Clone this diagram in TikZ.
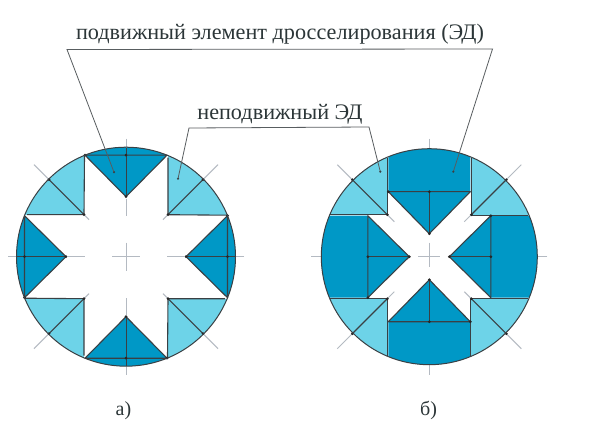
\documentclass[tikz,border=0pt]{standalone}
\usepackage{fontspec}
\setmainfont{Liberation Serif}
\definecolor{dk}{HTML}{0098C6}
\definecolor{lt}{HTML}{6DD3E8}
\definecolor{ink}{HTML}{3A4044}
\definecolor{cl}{HTML}{B4BAC2}
\definecolor{txt}{HTML}{2C3638}
\tikzset{
  outl/.style={draw=ink,line width=1.1pt,line join=round},
  thinl/.style={draw=ink,line width=0.7pt},
  centerl/.style={draw=cl,line width=1pt},
  leader/.style={draw=ink!85,line width=0.8pt},
  lab/.style={font=\fontsize{22.2}{25}\selectfont,text=txt,inner sep=0pt,anchor=base},
  sub/.style={font=\fontsize{20}{22}\selectfont,text=txt,inner sep=0pt,anchor=base},
}
\newcommand{\vd}[1]{\fill[black!85] (#1) circle (1.5);}
\begin{document}
\begin{tikzpicture}[x=1pt,y=-1pt]
\useasboundingbox (0,0) rectangle (591,438);
\fill[white] (0,0) rectangle (591,438);
% --- figure a
\begin{scope}[shift={(126,256.7)}]
  \begin{scope}
    \clip (0,0) circle (109.5);
    \foreach \r in {0,90,180,270}{
      \begin{scope}[rotate=\r]
        \fill[lt] (-42,-42) -- (-42,-120) -- (-120,-120) -- (-120,-42) -- cycle;
        \fill[dk] (0,-60) -- (-41,-101.5) -- (-41,-120) -- (41,-120) -- (41,-101.5) -- cycle;
      \end{scope}}
  \end{scope}
  \foreach \r in {0,90,180,270}{
    \begin{scope}[rotate=\r]
      \draw[centerl] (0,-118) -- (0,-109);
      \draw[centerl] (0,-58) -- (0,-41);
      \draw[centerl] (-92,-92) -- (-77,-77);
      \draw[centerl] (-42,-42) -- (-37,-37);
      \draw[outl] (-41,-101.5) -- (41,-101.5) -- (0,-60) -- cycle;
      \draw[thinl] (0,-109) -- (0,-60);
      \draw[outl] (-41.5,-101) -- (-42,-42) -- (-99,-42);
      \draw[outl] (-42,-42) -- (-77,-77);
      \vd{-41,-101.5}\vd{0,-60}\vd{0,-101.5}\vd{-42,-42}\vd{-77,-77}
    \end{scope}}
  \draw[centerl] (-14,0) -- (14,0) (0,-14) -- (0,14);
  \draw[draw=ink,line width=1pt] (0,0) circle (109.5);
  \coordinate (ma) at (-12,-84.5);
  \coordinate (fa) at (52,-78);
\end{scope}
% --- figure b
\begin{scope}[shift={(429.3,256.7)}]
  \begin{scope}
    \clip (0,0) circle (108);
    \foreach \r/\h/\t in {0/65/23,90/61.5/20,180/65/23,270/61.5/20}{
      \begin{scope}[rotate=\r]
        \fill[lt] (-42,-42) -- (-42,-120) -- (-120,-120) -- (-120,-42) -- cycle;
        \fill[dk] (0,-\t) -- (-41,-\h) -- (-41,-120) -- (41,-120) -- (41,-\h) -- cycle;
      \end{scope}}
  \end{scope}
  \foreach \r/\h/\t in {0/65/23,90/61.5/20,180/65/23,270/61.5/20}{
    \begin{scope}[rotate=\r]
      \draw[centerl] (0,-118) -- (0,-108);
      \draw[centerl] (-92,-92) -- (-77,-77);
      \draw[centerl] (-42,-42) -- (-35,-35);
      \draw[outl] (-41,-\h) -- (41,-\h) -- (0,-\t) -- cycle;
      \draw[thinl] (0,-\h) -- (0,-\t);
      \draw[thinl] (-41.5,-99) -- (-41.5,-\h);
      \draw[outl] (-41.5,-\h) -- (-41.5,-42);
      \draw[thinl] (-41.5,-42) -- (-99,-42);
      \draw[outl] (-42,-42) -- (-77,-77);
      \vd{-41,-\h}\vd{0,-\t}\vd{0,-\h}\vd{-42,-42}\vd{-77,-77}
    \end{scope}}
  \draw[centerl] (-11,0) -- (11,0) (0,-14) -- (0,10);
  \draw[draw=ink,line width=1pt] (0,0) circle (108);
  \coordinate (mb) at (24,-85);
  \coordinate (fb) at (-49,-85);
\end{scope}
% --- labels
\node[lab] (t1) at (280,40) {подвижный элемент дросселирования (ЭД)};
\node[lab] (t2) at (280,120) {неподвижный ЭД};
\node[sub] (ta) at (123.5,415.5) {а)};
\node[sub] (tb) at (428.5,415.5) {б)};
% --- leaders
\coordinate (l1) at (67,49.5);
\coordinate (r1) at (492.5,49);
\coordinate (l2) at (189,128);
\coordinate (r2) at (369,127);
\draw[leader] (ma) -- (l1) -- (r1) -- (mb);
\draw[leader] (fa) -- (l2) -- (r2) -- (fb);
\fill[ink] (ma) circle (1.2) (fa) circle (1.2) (mb) circle (1.2) (fb) circle (1.2);
\end{tikzpicture}
\end{document}
